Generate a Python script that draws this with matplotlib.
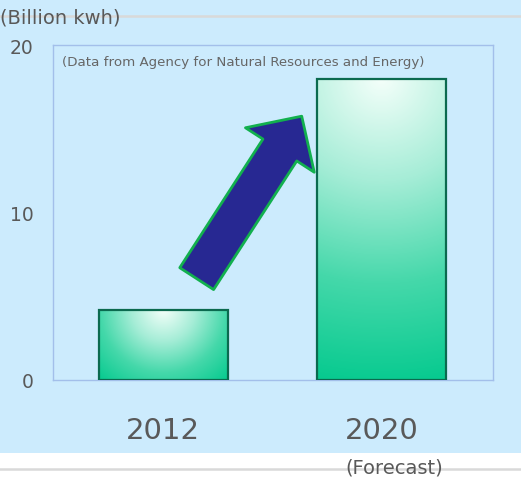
import numpy as np
import matplotlib
matplotlib.use("Agg")
import matplotlib.pyplot as plt
from matplotlib.patches import FancyArrowPatch, ArrowStyle, Rectangle
from matplotlib.lines import Line2D
from matplotlib.colors import LinearSegmentedColormap

# Data
years = ["2012", "2020"]
values = [4.2, 18.0]
y_ticks = [0, 10, 20]
unit_label = "(Billion kwh)"
source_note = "(Data from Agency for Natural Resources and Energy)"
forecast_note = "(Forecast)"

plt.rcParams["font.family"] = ["DejaVu Sans"]

W, H, DPI = 521, 481, 100
fig = plt.figure(figsize=(W / DPI, H / DPI), dpi=DPI, facecolor="white")

# light blue panel and grey rules
fig.patches.append(Rectangle((0, 1 - 454 / H), 1, 454 / H, transform=fig.transFigure,
                             facecolor="#CCEBFD", edgecolor="none", zorder=-2))
for yy in (17, 470):
    fig.lines.append(Line2D([0, 1], [1 - yy / H] * 2, transform=fig.transFigure,
                            color="#D9D9D9", lw=1.8, zorder=-1))

ax = fig.add_axes([53 / W, 1 - 381 / H, 440 / W, 335 / H])
ax.set_facecolor("none")
ax.set_xlim(-0.505, 1.51)
ax.set_ylim(0, 20)
for s in ax.spines.values():
    s.set_color("#A3BFEA")
    s.set_linewidth(1.0)

x = np.arange(len(years))
bars = ax.bar(x, values, width=0.59, facecolor="none", edgecolor="#0B6A4F",
              linewidth=1.6, zorder=3)

cmap = LinearSegmentedColormap.from_list("mint", ["#F4FFFA", "#A6EDD7", "#45D8AA", "#06CA8F"])
fig.canvas.draw()
for b in bars:
    x0, y0 = b.get_x(), b.get_y()
    w, h = b.get_width(), b.get_height()
    p0 = ax.transData.transform((x0, y0))
    p1 = ax.transData.transform((x0 + w, y0 + h))
    pw, ph = abs(p1[0] - p0[0]), abs(p1[1] - p0[1])
    nx, ny = max(int(pw), 2), max(int(ph), 2)
    gx = (np.linspace(0, 1, nx) - 0.5) * pw
    gy = np.linspace(0, 1, ny) * ph  # distance from the top edge
    GX, GY = np.meshgrid(gx, gy)
    dist = np.hypot(GX, GY) / np.hypot(pw / 2, ph)
    img = ax.imshow(dist, cmap=cmap, vmin=0, vmax=1, origin="upper",
                    extent=(x0, x0 + w, y0, y0 + h), aspect="auto",
                    interpolation="bilinear", zorder=2)
    img.set_clip_path(b)

ax.set_xlim(-0.505, 1.51)
ax.set_ylim(0, 20)

ax.set_yticks(y_ticks)
ax.set_yticklabels([str(t) for t in y_ticks], fontsize=13.5, color="#595959")
ax.set_xticks(x)
ax.set_xticklabels(years, fontsize=21, color="#595959")
ax.tick_params(axis="both", length=0)
ax.tick_params(axis="y", pad=14)
ax.tick_params(axis="x", pad=26)

# growth arrow
arrow = FancyArrowPatch((0.153, 6.05), (0.634, 15.75),
                        arrowstyle=ArrowStyle.Simple(head_length=29, head_width=59, tail_width=29),
                        mutation_scale=1, shrinkA=0, shrinkB=0,
                        facecolor="#272892", edgecolor="#12B04E", linewidth=2.0,
                        zorder=5)
ax.add_patch(arrow)

fig.text(0 / W, 1 - 18 / H, unit_label, fontsize=14, color="#595959",
         ha="left", va="center", zorder=5)
ax.text(0.02, 0.95, source_note, transform=ax.transAxes, fontsize=9.6,
        color="#666666", ha="left", va="center")
fig.text(394 / W, 1 - 468 / H, forecast_note, fontsize=14, color="#595959",
         ha="center", va="center", zorder=5)

fig.savefig("out.png", dpi=DPI)
